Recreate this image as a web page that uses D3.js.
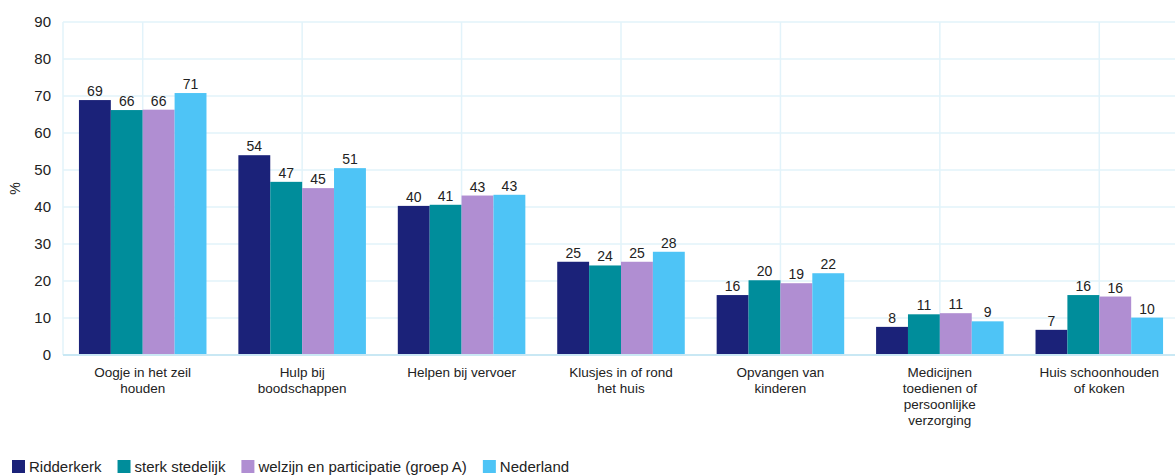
<!DOCTYPE html>
<html>
<head>
<meta charset="utf-8">
<script src="https://cdn.jsdelivr.net/npm/d3@7"></script>
<style>
  body { margin: 0; background: #fff; }
  text { font-family: "Liberation Sans", Arial, sans-serif; fill: #222; }
</style>
</head>
<body>
<div id="viz"></div>
<script>
// categories (x labels, split into lines)
const categories = [
  ["Oogje in het zeil", "houden"],
  ["Hulp bij", "boodschappen"],
  ["Helpen bij vervoer"],
  ["Klusjes in of rond", "het huis"],
  ["Opvangen van", "kinderen"],
  ["Medicijnen", "toedienen of", "persoonlijke", "verzorging"],
  ["Huis schoonhouden", "of koken"]
];
const seriesNames = ["Ridderkerk", "sterk stedelijk", "welzijn en participatie (groep A)", "Nederland"];
const ridderkerk = [68.9, 54.0, 40.3, 25.2, 16.2, 7.6, 6.8];
const sterkStedelijk = [66.2, 46.8, 40.6, 24.2, 20.2, 11.0, 16.2];
const welzijn = [66.3, 45.1, 43.1, 25.2, 19.4, 11.3, 15.8];
const nederland = [70.8, 50.5, 43.3, 27.9, 22.1, 9.1, 10.1];
const yTicks = [0, 10, 20, 30, 40, 50, 60, 70, 80, 90];
const colors = ["#1b2279", "#008d9b", "#b08ed2", "#4ec4f6"];

const allSeries = [ridderkerk, sterkStedelijk, welzijn, nederland];

const W = 1175, H = 475;
const svg = d3.select("#viz").append("svg")
  .attr("width", W).attr("height", H);

const x0 = d3.scaleBand()
  .domain(d3.range(categories.length))
  .range([63, 1179])
  .paddingInner(0.2)
  .paddingOuter(0.1);

const x1 = d3.scaleBand()
  .domain(d3.range(seriesNames.length))
  .range([0, x0.bandwidth()]);

const y = d3.scaleLinear().domain([0, 90]).range([355, 22]);

// grid
svg.append("g").selectAll("line")
  .data(yTicks)
  .join("line")
  .attr("x1", 63).attr("x2", W)
  .attr("y1", d => y(d)).attr("y2", d => y(d))
  .attr("stroke", "#e2f3fa").attr("stroke-width", 1.5);

svg.append("g").selectAll("line")
  .data(d3.range(categories.length))
  .join("line")
  .attr("x1", d => x0(d) + x0.bandwidth() / 2)
  .attr("x2", d => x0(d) + x0.bandwidth() / 2)
  .attr("y1", y(90)).attr("y2", y(0))
  .attr("stroke", "#e2f3fa").attr("stroke-width", 1.5);

// left axis line
svg.append("line")
  .attr("x1", 63).attr("x2", 63)
  .attr("y1", y(90)).attr("y2", y(0))
  .attr("stroke", "#e2f3fa").attr("stroke-width", 1.5);

// y tick labels
svg.append("g").selectAll("text")
  .data(yTicks)
  .join("text")
  .attr("x", 51).attr("y", d => y(d) + 5)
  .attr("text-anchor", "end")
  .style("font-size", "15px")
  .text(d => d);

svg.append("text")
  .attr("transform", `translate(20, ${y(45)}) rotate(-90)`)
  .attr("text-anchor", "middle")
  .style("font-size", "14px")
  .text("%");

// bars
const groups = svg.append("g").selectAll("g")
  .data(allSeries)
  .join("g")
  .attr("fill", (d, i) => colors[i]);

groups.each(function (vals, si) {
  const g = d3.select(this);
  g.selectAll("rect")
    .data(vals)
    .join("rect")
    .attr("x", (d, ci) => x0(ci) + x1(si))
    .attr("y", d => y(d))
    .attr("width", x1.bandwidth())
    .attr("height", d => y(0) - y(d));
  g.selectAll("text")
    .data(vals)
    .join("text")
    .attr("x", (d, ci) => x0(ci) + x1(si) + x1.bandwidth() / 2)
    .attr("y", d => y(d) - 4)
    .attr("text-anchor", "middle")
    .style("font-size", "14px")
    .style("fill", "#222")
    .text(d => d3.format(".0f")(d));
});

// baseline
svg.append("line")
  .attr("x1", 63).attr("x2", W)
  .attr("y1", y(0)).attr("y2", y(0))
  .attr("stroke", "#c9e8f4").attr("stroke-width", 2);

// x labels
svg.append("g").selectAll("text")
  .data(categories)
  .join("text")
  .attr("text-anchor", "middle")
  .style("font-size", "13.5px")
  .attr("y", 377)
  .each(function (lines, i) {
    d3.select(this).selectAll("tspan")
      .data(lines)
      .join("tspan")
      .attr("x", x0(i) + x0.bandwidth() / 2)
      .attr("dy", (d, j) => j === 0 ? 0 : 16)
      .text(d => d);
  });

// legend
const legend = svg.append("g").attr("transform", "translate(12, 460)");
let lx = 0;
seriesNames.forEach((name, i) => {
  const item = legend.append("g").attr("transform", `translate(${lx}, 0)`);
  item.append("rect").attr("width", 13).attr("height", 13).attr("fill", colors[i]);
  const t = item.append("text").attr("x", 17).attr("y", 12)
    .style("font-size", "15px").text(name);
  lx += 17 + t.node().getComputedTextLength() + 16;
});
</script>
</body>
</html>
